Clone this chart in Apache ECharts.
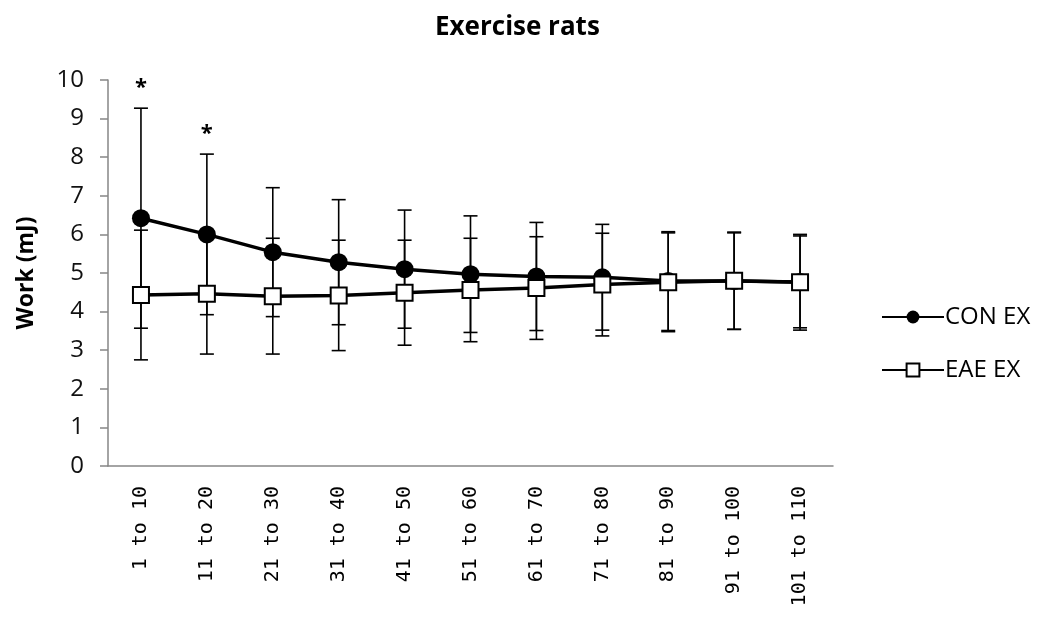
<!DOCTYPE html>
<html>
<head>
<meta charset="utf-8">
<script src="https://cdn.jsdelivr.net/npm/echarts@6/dist/echarts.min.js"></script>
<style>
  html, body { margin: 0; padding: 0; background: #fff; }
  #chart { width: 1044px; height: 624px; }
</style>
</head>
<body>
<div id="chart"></div>
<script>
// Work per block of contractions, mean ± SD
const categories = ['1 to 10', '11 to 20', '21 to 30', '31 to 40', '41 to 50', '51 to 60',
                    '61 to 70', '71 to 80', '81 to 90', '91 to 100', '101 to 110'];
const conMean = [6.42, 6.00, 5.54, 5.28, 5.10, 4.97, 4.91, 4.89, 4.79, 4.79, 4.77];
const conSD   = [2.85, 2.08, 1.67, 1.62, 1.53, 1.51, 1.40, 1.37, 1.28, 1.25, 1.19];
const eaeMean = [4.43, 4.46, 4.40, 4.42, 4.49, 4.56, 4.61, 4.70, 4.76, 4.80, 4.76];
const eaeSD   = [1.68, 1.56, 1.50, 1.43, 1.36, 1.34, 1.33, 1.33, 1.28, 1.26, 1.24];
const significance = ['*', '*', '', '', '', '', '', '', '', '', ''];
const yTicks = [0, 10, 1]; // min, max, interval

const chart = echarts.init(document.getElementById('chart'));

function errorData(mean, sd, marks) {
  return mean.map((m, i) => [i, m - sd[i], m + sd[i], marks ? marks[i] : '']);
}

function renderErrorBar(params, api) {
  const x = api.value(0);
  const lo = api.coord([x, api.value(1)]);
  const hi = api.coord([x, api.value(2)]);
  const half = 7;
  const style = { stroke: '#000', lineWidth: 1.6 };
  const children = [
    { type: 'line', shape: { x1: lo[0], y1: lo[1], x2: hi[0], y2: hi[1] }, style },
    { type: 'line', shape: { x1: lo[0] - half, y1: lo[1], x2: lo[0] + half, y2: lo[1] }, style },
    { type: 'line', shape: { x1: hi[0] - half, y1: hi[1], x2: hi[0] + half, y2: hi[1] }, style }
  ];
  const mark = api.value(3);
  if (mark) {
    children.push({
      type: 'text',
      style: {
        text: mark, x: hi[0], y: hi[1] - 9,
        align: 'center', verticalAlign: 'bottom',
        fill: '#000', font: 'bold 22px "Open Sans", sans-serif'
      }
    });
  }
  return { type: 'group', children };
}

const option = {
  backgroundColor: '#fff',
  animation: false,
  title: {
    text: 'Exercise rats',
    left: 430, top: 10,
    textStyle: { fontFamily: 'Open Sans', fontWeight: 'bold', fontSize: 26, color: '#000' }
  },
  legend: {
    orient: 'vertical',
    left: 876, top: 300,
    itemWidth: 62, itemHeight: 16, itemGap: 29,
    textStyle: { fontFamily: 'Open Sans', fontSize: 24, color: '#000', padding: [0, 0, 0, -4] },
    data: ['CON EX', 'EAE EX']
  },
  grid: { left: 108, right: 211, top: 80, bottom: 158 },
  xAxis: {
    type: 'category',
    data: categories,
    boundaryGap: true,
    axisLine: { lineStyle: { color: '#868686', width: 1.5 } },
    axisTick: { show: false },
    axisLabel: {
      rotate: 90, margin: 20, interval: 0,
      fontFamily: 'DejaVu Sans Mono', fontSize: 20, color: '#000'
    }
  },
  yAxis: {
    type: 'value',
    min: yTicks[0], max: yTicks[1], interval: yTicks[2],
    name: 'Work (mJ)',
    nameLocation: 'middle', nameGap: 70,
    nameTextStyle: { fontFamily: 'Open Sans', fontWeight: 'bold', fontSize: 23, color: '#000' },
    axisLine: { show: true, lineStyle: { color: '#868686', width: 1.5 } },
    axisTick: { show: true, length: 8, lineStyle: { color: '#868686', width: 1.5 } },
    splitLine: { show: false },
    axisLabel: { margin: 24, fontFamily: 'Open Sans', fontSize: 24, color: '#111' }
  },
  series: [
    {
      name: 'CON EX err', type: 'custom', z: 1,
      renderItem: renderErrorBar,
      encode: { x: 0, y: [1, 2] },
      data: errorData(conMean, conSD, significance)
    },
    {
      name: 'EAE EX err', type: 'custom', z: 1,
      renderItem: renderErrorBar,
      encode: { x: 0, y: [1, 2] },
      data: errorData(eaeMean, eaeSD)
    },
    {
      name: 'CON EX', type: 'line', z: 3,
      data: conMean,
      symbol: 'circle', symbolSize: 18,
      itemStyle: { color: '#000' },
      lineStyle: { color: '#000', width: 3.5 }
    },
    {
      name: 'EAE EX', type: 'line', z: 4,
      data: eaeMean,
      symbol: 'rect', symbolSize: 16,
      itemStyle: { color: '#fff', borderColor: '#000', borderWidth: 2 },
      lineStyle: { color: '#000', width: 3.5 }
    }
  ]
};

chart.setOption(option);
</script>
</body>
</html>
